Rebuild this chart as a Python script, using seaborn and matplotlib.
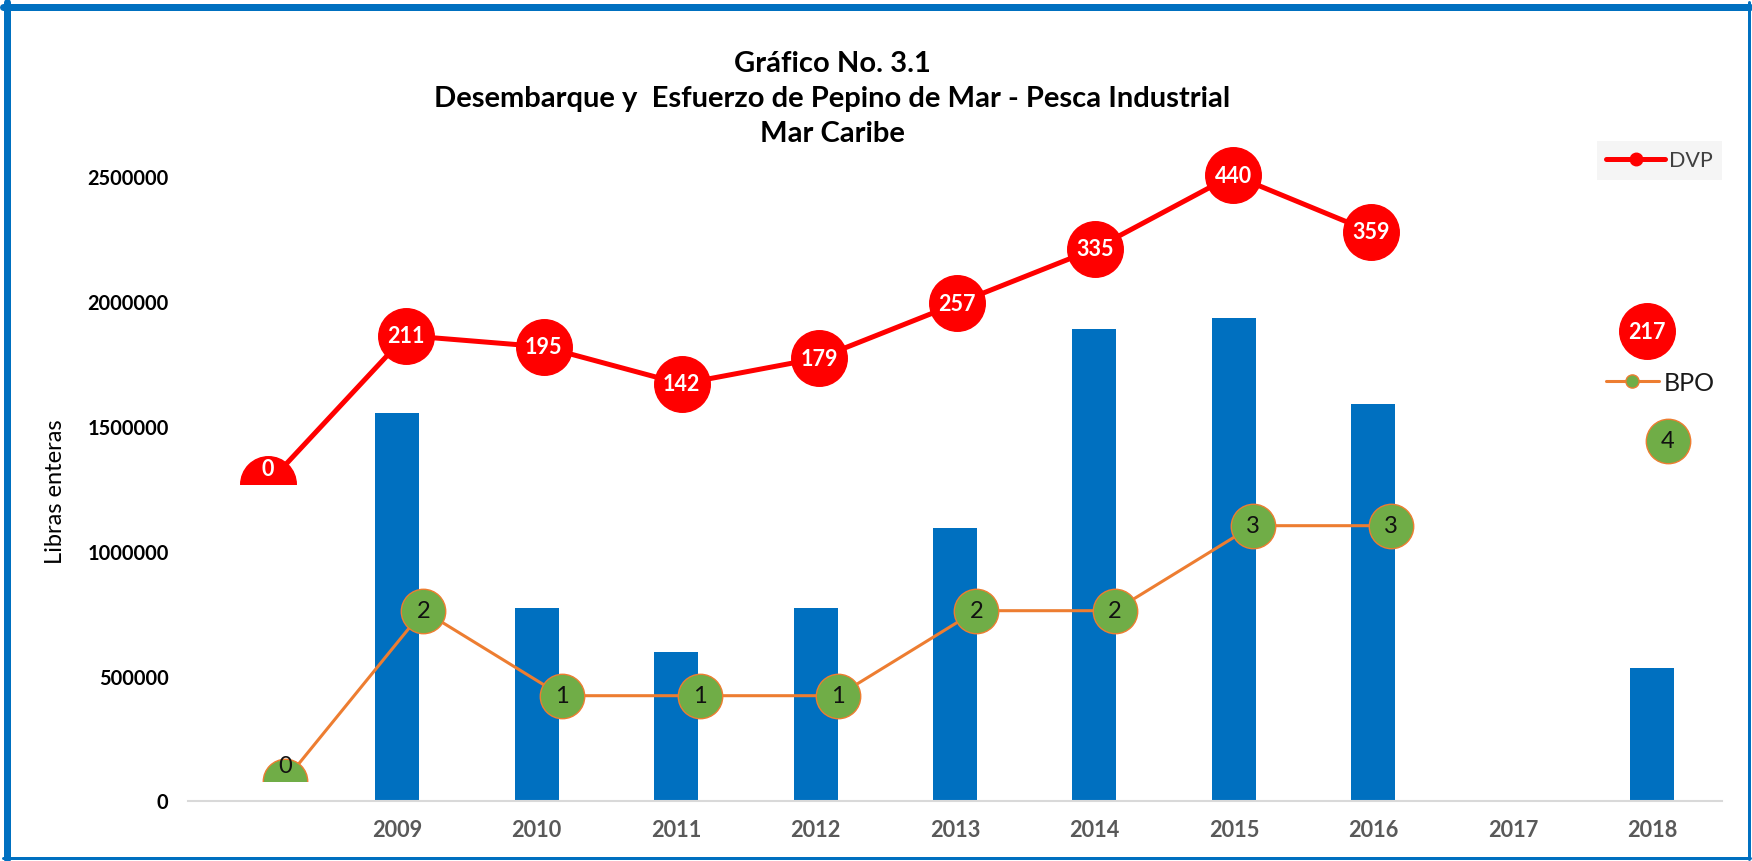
import numpy as np
import pandas as pd
import matplotlib
matplotlib.use("Agg")
import matplotlib.pyplot as plt
import seaborn as sns
from matplotlib.lines import Line2D

# ---------------- data ----------------
categories = ["", "2009", "2010", "2011", "2012", "2013", "2014", "2015", "2016", "2017", "2018"]
landings_lbs = [0, 1550000, 770000, 596000, 770000, 1090000, 1888000, 1931000, 1588000, 0, 529000]
dvp_values = [0, 211, 195, 142, 179, 257, 335, 440, 359, np.nan, 217]
bpo_values = [0, 2, 1, 1, 1, 2, 2, 3, 3, np.nan, 4]
y_ticks = [0, 500000, 1000000, 1500000, 2000000, 2500000]
title_lines = ["Gráfico No. 3.1",
               "Desembarque y  Esfuerzo de Pepino de Mar - Pesca Industrial",
               "Mar Caribe"]
y_label = "Libras enteras"

# ---------------- style ----------------
W, H, DPI = 1752, 862, 100
sns.set_theme(style="white")
plt.rcParams["font.family"] = ["Lato", "DejaVu Sans"]

BLUE = "#0070C0"
RED = "#FF0000"
ORANGE = "#ED7D31"
GREEN = "#70AD47"

fig = plt.figure(figsize=(W / DPI, H / DPI), dpi=DPI)
fig.patch.set_facecolor("white")

def fx(px):
    return px / W

def fy(py):
    return 1 - py / H

# main axes (bars)
L, R = 188, 1722
ax = fig.add_axes([fx(L), fy(801.5), fx(R) - fx(L), fy(177.3) - fy(801.5)])
df = pd.DataFrame({"year": categories, "lbs": landings_lbs})
sns.barplot(data=df, x="year", y="lbs", order=categories, color=BLUE,
            saturation=1, width=0.316, errorbar=None, linewidth=0, ax=ax)
ax.set_xlim(-0.5, len(categories) - 0.5)
ax.set_ylim(0, 2500000)
ax.set_yticks(y_ticks)
ax.set_yticklabels([str(t) for t in y_ticks], fontsize=14.4, fontweight="bold", color="black")
ax.set_xticks(range(len(categories)))
ax.set_xticklabels(categories, fontsize=15.7, fontweight="bold", color="#595959")
ax.tick_params(axis="y", length=0, pad=14)
ax.tick_params(axis="x", length=0, pad=13)
ax.set_xlabel("")
ax.set_ylabel("")
for s in ["left", "top", "right"]:
    ax.spines[s].set_visible(False)
ax.spines["bottom"].set_color("#D9D9D9")
ax.spines["bottom"].set_linewidth(1.5)
ax.patch.set_alpha(0)

# BPO overlay axes
ax_b = fig.add_axes([fx(L), fy(781.7), fx(R) - fx(L), fy(140) - fy(781.7)])
ax_b.set_xlim(-0.7015, 10.393)
ax_b.set_ylim(0, 7.549)
ax_b.axis("off")
kb = np.arange(len(bpo_values))
ax_b.plot(kb, bpo_values, color=ORANGE, lw=2.2, zorder=2)
ax_b.plot(kb, bpo_values, ls="none", marker="o", ms=32, mfc=GREEN, mec=ORANGE, mew=1, zorder=3)
for k, v in zip(kb, bpo_values):
    if np.isnan(v):
        continue
    ax_b.annotate(f"{int(v)}", (k, v), xytext=(0, 11 if v == 0 else 0), textcoords="offset points",
                  ha="center", va="center", fontsize=17, color="#111111", zorder=4)

# DVP overlay axes
ax_d = fig.add_axes([fx(L), fy(484.5), fx(R) - fx(L), fy(140) - fy(484.5)])
ax_d.set_xlim(-0.580, 10.546)
ax_d.set_ylim(0, 491.4)
ax_d.axis("off")
kd = np.arange(len(dvp_values))
ax_d.plot(kd, dvp_values, color=RED, lw=3.6, zorder=2)
ax_d.plot(kd, dvp_values, ls="none", marker="o", ms=40, mfc=RED, mec=RED, zorder=3)
for k, v in zip(kd, dvp_values):
    if np.isnan(v):
        continue
    ax_d.annotate(f"{int(v)}", (k, v), xytext=(0, 11 if v == 0 else 0), textcoords="offset points",
                  ha="center", va="center", fontsize=15.5, fontweight="bold", color="white", zorder=4)

# legends
h_dvp = Line2D([], [], color=RED, lw=3.6, marker="o", ms=9, mfc=RED, mec=RED)
leg1 = fig.legend(handles=[h_dvp], labels=["DVP"], loc="upper left",
                  bbox_to_anchor=(fx(1586), fy(131)), frameon=True, fancybox=False,
                  facecolor="#F5F5F5", edgecolor="none", framealpha=1, fontsize=15.5,
                  handlelength=2.7, handletextpad=0.2, borderpad=0.45, labelcolor="#404040")
h_bpo = Line2D([], [], color=ORANGE, lw=2.2, marker="o", ms=9.5, mfc=GREEN, mec=ORANGE)
leg2 = fig.legend(handles=[h_bpo], labels=["BPO"], loc="upper left",
                  bbox_to_anchor=(fx(1586), fy(352)), frameon=False, fontsize=18,
                  handlelength=2.1, handletextpad=0.2, borderpad=0.3, labelcolor="#1a1a1a")

# titles
for text, py in zip(title_lines, [62, 97, 132]):
    fig.text(fx(832), fy(py), text, ha="center", va="center_baseline", fontsize=21,
             fontweight="bold", color="black")

fig.text(fx(56), fy(492), y_label, rotation=90, ha="center", va="center",
         fontsize=17, color="black")

# outer frame
fig.add_artist(Line2D([fx(6.5), fx(6.5)], [fy(3), fy(860)], color=BLUE, lw=7 * 0.72))
fig.add_artist(Line2D([fx(3), fx(1750)], [fy(7.5), fy(7.5)], color=BLUE, lw=7 * 0.72))
fig.add_artist(Line2D([fx(1748.5), fx(1748.5)], [fy(3), fy(860)], color=BLUE, lw=3 * 0.72))
fig.add_artist(Line2D([fx(3), fx(1750)], [fy(858.5), fy(858.5)], color=BLUE, lw=3 * 0.72))

fig.savefig("out.png", dpi=DPI, facecolor="white")
